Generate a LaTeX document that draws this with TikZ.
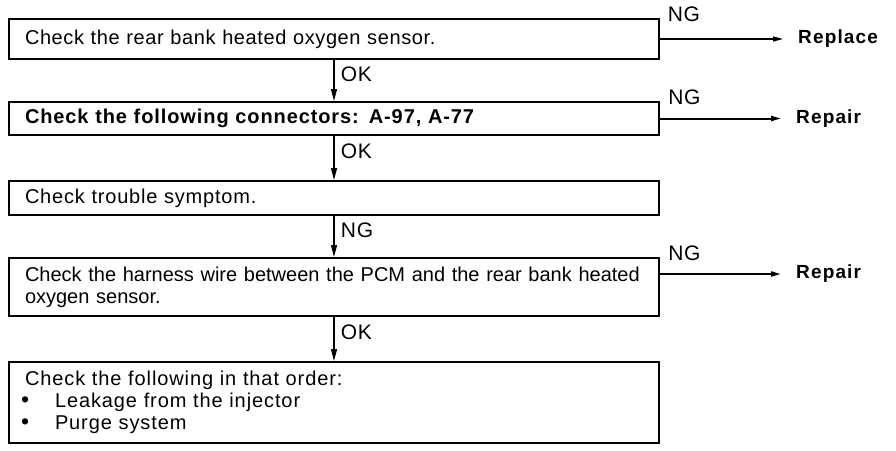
\documentclass[tikz,border=0pt]{standalone}
\usepackage{fontspec}
\setmainfont{Liberation Sans}
\usetikzlibrary{arrows.meta,positioning}
\begin{document}
\begin{tikzpicture}[
        x=1pt, y=1pt,
        node distance=41pt,
        font=\fontsize{20}{22}\selectfont\addfontfeature{LetterSpace=3},
        check_box/.style={draw, rectangle, line width=2pt, minimum width=650pt, text width=618pt, align=left, inner xsep=16pt, inner ysep=0pt},
        result_node/.style={font=\fontsize{19}{20}\selectfont\bfseries\addfontfeature{LetterSpace=6}, inner xsep=15pt, anchor=west},
        label_node/.style={font=\fontsize{21}{20}\selectfont\addfontfeature{LetterSpace=3}},
        arrow/.style={-{Triangle[length=12pt,width=6pt]}, line width=1.3pt},
        ng_arrow/.style={-{Triangle[length=10pt,width=5pt]}, line width=1.2pt}
    ]
        \useasboundingbox (0,0) rectangle (896,-450);

        \node[check_box, minimum height=40pt, anchor=north west] (chk1) at (8,-18) {Check the rear bank heated oxygen sensor.};
        \node[check_box, minimum height=33pt, below=41pt of chk1, font=\fontsize{20}{22}\selectfont\bfseries\addfontfeature{LetterSpace=4.5}] (chk2) {Check the following connectors: A-97, A-77};
        \node[check_box, minimum height=34pt, below=44pt of chk2, font=\fontsize{20}{22}\selectfont\addfontfeature{LetterSpace=4}] (chk3) {Check trouble symptom.};
        \node[check_box, minimum height=58pt, below=41pt of chk3, font=\fontsize{20}{22}\selectfont] (chk4) {Check the harness wire between the PCM and the rear bank heated\\oxygen sensor.};
        \node[check_box, minimum height=81pt, below=44pt of chk4, font=\fontsize{20}{22}\selectfont\addfontfeature{LetterSpace=4.5}] (chk5) {Check the following in that order:\\
            \hspace*{-4pt}\makebox[34pt][l]{\fontsize{23}{22}\selectfont\textbullet}Leakage from the injector\\
            \hspace*{-4pt}\makebox[34pt][l]{\fontsize{23}{22}\selectfont\textbullet}Purge system};

        % main flow
        \draw[arrow] (chk1.south) -- (chk2.north) node[pos=0.35, right, label_node, xshift=3pt] {OK};
        \draw[arrow] (chk2.south) -- (chk3.north) node[pos=0.35, right, label_node, xshift=3pt] {OK};
        \draw[arrow] (chk3.south) -- (chk4.north) node[pos=0.35, right, label_node, xshift=3pt] {NG};
        \draw[arrow] (chk4.south) -- (chk5.north) node[pos=0.35, right, label_node, xshift=3pt] {OK};

        % NG branches
        \node[result_node] (rep1) at ([xshift=123pt]chk1.east) {Replace};
        \node[result_node] (rep2) at ([xshift=121pt]chk2.east) {Repair};
        \coordinate (ng4) at ([yshift=-17pt]chk4.north east);
        \node[result_node] (rep3) at ([xshift=121pt]ng4) {Repair};

        \draw[ng_arrow] (chk1.east) -- (rep1.west) node[pos=0, above right, label_node, xshift=4pt, yshift=13pt] {NG};
        \draw[ng_arrow, line width=2pt] (chk2.east) -- (rep2.west) node[pos=0, above right, label_node, xshift=4pt, yshift=9pt] {NG};
        \draw[ng_arrow, line width=2pt] (ng4) -- (rep3.west) node[pos=0, above right, label_node, xshift=4pt, yshift=9pt] {NG};
    \end{tikzpicture}
\end{document}
